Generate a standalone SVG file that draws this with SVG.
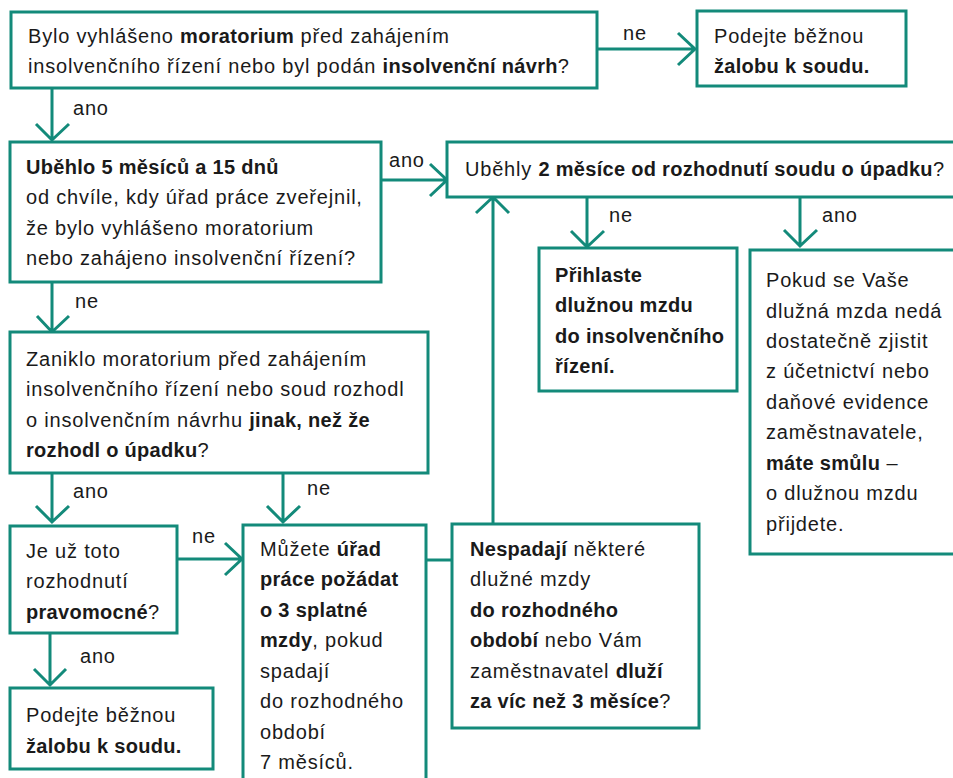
<svg xmlns="http://www.w3.org/2000/svg" width="953" height="778" viewBox="0 0 953 778">
<style>
.box{fill:#fff;stroke:#138a7a;stroke-width:3}
.ln{fill:none;stroke:#138a7a;stroke-width:3}
text{font-family:"Liberation Sans",Arial,sans-serif;font-size:20px;letter-spacing:0.8px;fill:#1a1a1a}
.b{font-weight:bold;letter-spacing:0.3px}
</style>
<rect width="953" height="778" fill="#fff"/>
<g id="connectors">
<path class="ln" d="M597,49 H694 M678,33 L695,49 L678,65"/>
<text x="623" y="40">ne</text>
<path class="ln" d="M52,88 V139 M36,124 L52,140 L69,124"/>
<text x="73" y="115">ano</text>
<path class="ln" d="M381,180 H446 M430,164 L447,180 L430,196"/>
<text x="389" y="167">ano</text>
<path class="ln" d="M587,197 V246 M571,231 L587,247 L604,231"/>
<text x="609" y="222">ne</text>
<path class="ln" d="M800,194 V246 M784,230 L800,246 L817,230"/>
<text x="822" y="222">ano</text>
<path class="ln" d="M52,282 V331 M37,316 L52,332 L69,316"/>
<text x="75" y="308">ne</text>
<path class="ln" d="M52,473 V521 M36,506 L52,522 L69,506"/>
<text x="73" y="498">ano</text>
<path class="ln" d="M283,473 V521 M267,506 L283,522 L300,506"/>
<text x="307" y="495">ne</text>
<path class="ln" d="M177,559 H241 M225,543 L242,559 L225,575"/>
<text x="192" y="543">ne</text>
<path class="ln" d="M50,633 V684 M34,669 L50,685 L66,669"/>
<text x="80" y="663">ano</text>
<path class="ln" d="M426,560 H452"/>
<path class="ln" d="M493,524 V198 M476,213 L493,197 L509,213"/>
</g>
<g id="n1">
<rect class="box" x="11" y="12" width="586" height="76"/>
<text x="28" y="43">Bylo vyhlášeno <tspan class="b">moratorium</tspan> před zahájením</text>
<text x="28" y="73">insolvenčního řízení nebo byl podán <tspan class="b">insolvenční návrh</tspan>?</text>
</g>
<g id="n2">
<rect class="box" x="697" y="11" width="209" height="75"/>
<text x="714" y="43">Podejte běžnou</text>
<text x="714" y="73" class="b">žalobu k soudu.</text>
</g>
<g id="n3">
<rect class="box" x="10" y="142" width="371" height="140"/>
<text x="26" y="174" class="b">Uběhlo 5 měsíců a 15 dnů</text>
<text x="26" y="204">od chvíle, kdy úřad práce zveřejnil,</text>
<text x="26" y="235">že bylo vyhlášeno moratorium</text>
<text x="26" y="265">nebo zahájeno insolvenční řízení?</text>
</g>
<g id="n4">
<rect class="box" x="447" y="142" width="520" height="55"/>
<text x="465" y="176">Uběhly <tspan class="b">2 měsíce od rozhodnutí soudu o úpadku</tspan>?</text>
</g>
<g id="n5">
<rect class="box" x="539" y="248" width="198" height="143"/>
<text x="555" y="282" class="b">Přihlaste</text>
<text x="555" y="312" class="b">dlužnou mzdu</text>
<text x="555" y="343" class="b">do insolvenčního</text>
<text x="555" y="373" class="b">řízení.</text>
</g>
<g id="n6">
<rect class="box" x="750" y="250" width="220" height="304"/>
<text x="766" y="287">Pokud se Vaše</text>
<text x="766" y="318">dlužná mzda nedá</text>
<text x="766" y="348">dostatečně zjistit</text>
<text x="766" y="378">z účetnictví nebo</text>
<text x="766" y="409">daňové evidence</text>
<text x="766" y="439">zaměstnavatele,</text>
<text x="766" y="470"><tspan class="b">máte smůlu</tspan> –</text>
<text x="766" y="500">o dlužnou mzdu</text>
<text x="766" y="531">přijdete.</text>
</g>
<g id="n7">
<rect class="box" x="10" y="332" width="418" height="141"/>
<text x="26" y="366">Zaniklo moratorium před zahájením</text>
<text x="26" y="396">insolvenčního řízení nebo soud rozhodl</text>
<text x="26" y="427">o insolvenčním návrhu <tspan class="b">jinak, než že</tspan></text>
<text x="26" y="457"><tspan class="b">rozhodl o úpadku</tspan>?</text>
</g>
<g id="n8">
<rect class="box" x="10" y="526" width="167" height="107"/>
<text x="26" y="558">Je už toto</text>
<text x="26" y="588">rozhodnutí</text>
<text x="26" y="619"><tspan class="b">pravomocné</tspan>?</text>
</g>
<g id="n9">
<rect class="box" x="10" y="688" width="203" height="81"/>
<text x="26" y="722">Podejte běžnou</text>
<text x="26" y="753" class="b">žalobu k soudu.</text>
</g>
<g id="n10">
<rect class="box" x="243" y="525" width="183" height="270"/>
<text x="260" y="556">Můžete <tspan class="b">úřad</tspan></text>
<text x="260" y="586" class="b">práce požádat</text>
<text x="260" y="617" class="b">o 3 splatné</text>
<text x="260" y="647"><tspan class="b">mzdy</tspan>, pokud</text>
<text x="260" y="678">spadají</text>
<text x="260" y="708">do rozhodného</text>
<text x="260" y="739">období</text>
<text x="260" y="769">7 měsíců.</text>
</g>
<g id="n11">
<rect class="box" x="452" y="524" width="247" height="204"/>
<text x="470" y="556"><tspan class="b">Nespadají</tspan> některé</text>
<text x="470" y="586">dlužné mzdy</text>
<text x="470" y="617" class="b">do rozhodného</text>
<text x="470" y="647"><tspan class="b">období</tspan> nebo Vám</text>
<text x="470" y="678">zaměstnavatel <tspan class="b">dluží</tspan></text>
<text x="470" y="708"><tspan class="b">za víc než 3 měsíce</tspan>?</text>
</g>
</svg>
